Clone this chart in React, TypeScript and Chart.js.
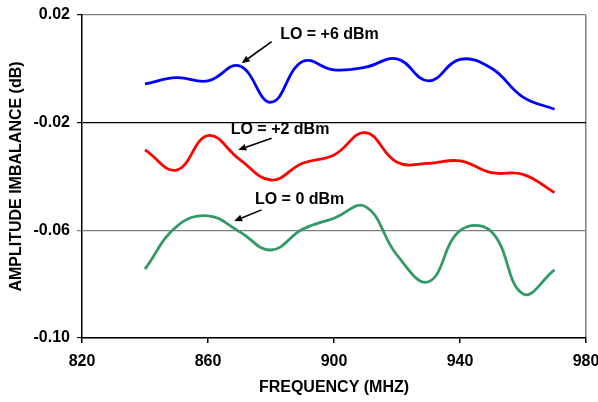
import React, { useEffect, useRef } from "react";
import { Chart, registerables } from "chart.js";

Chart.register(...registerables);

const frequencies = [840, 850, 860, 870, 880, 890, 900, 910, 920, 930, 940, 950, 960, 970];
const lo6 = [-0.0056, -0.0033, -0.0045, 0.0011, -0.0124, 0.0027, -0.0004, 0.0006, 0.0037, -0.0045, 0.0035, 0.0002, -0.0105, -0.015];
const lo2 = [-0.0301, -0.0376, -0.0248, -0.0336, -0.0413, -0.0351, -0.032, -0.0237, -0.0347, -0.0351, -0.0342, -0.0386, -0.0392, -0.046];
const lo0 = [-0.0744, -0.0586, -0.0546, -0.0605, -0.0673, -0.0596, -0.0555, -0.0512, -0.0692, -0.0791, -0.0601, -0.0605, -0.0836, -0.0747];

const xTicks = [820, 860, 900, 940, 980];
const yTicks = [-0.1, -0.06, -0.02, 0.02];

const annLabels = ["LO = +6 dBm", "LO = +2 dBm", "LO = 0 dBm"];
const annTextPos = [[882.9, 0.0126], [867.2, -0.0227], [874.9, -0.0487]];
const annArrowFrom = [[880.2, 0.0101], [880.2, -0.0258], [877.0, -0.0524]];
const annArrowTo = [[870.7, 0.0021], [869.6, -0.0301], [868.3, -0.0565]];

const FONT = "'Liberation Sans', Arial, sans-serif";

const annotationPlugin = {
  id: "annotations",
  afterDatasetsDraw(chart: any) {
    const ctx = chart.ctx;
    const xs = chart.scales.x;
    const ys = chart.scales.y;
    ctx.save();
    ctx.fillStyle = "#000";
    ctx.strokeStyle = "#000";
    ctx.font = `bold 16px ${FONT}`;
    ctx.textAlign = "left";
    ctx.textBaseline = "middle";
    annLabels.forEach((label, i) => {
      const tx = xs.getPixelForValue(annTextPos[i][0]);
      const ty = ys.getPixelForValue(annTextPos[i][1]);
      ctx.fillText(label, tx, ty);
      const x1 = xs.getPixelForValue(annArrowFrom[i][0]);
      const y1 = ys.getPixelForValue(annArrowFrom[i][1]);
      const x2 = xs.getPixelForValue(annArrowTo[i][0]);
      const y2 = ys.getPixelForValue(annArrowTo[i][1]);
      const ang = Math.atan2(y2 - y1, x2 - x1);
      const headLen = 8;
      const headW = 3.5;
      const bx = x2 - headLen * Math.cos(ang);
      const by = y2 - headLen * Math.sin(ang);
      ctx.lineWidth = 1.6;
      ctx.beginPath();
      ctx.moveTo(x1, y1);
      ctx.lineTo(bx, by);
      ctx.stroke();
      ctx.beginPath();
      ctx.moveTo(x2, y2);
      ctx.lineTo(bx + headW * Math.sin(ang), by - headW * Math.cos(ang));
      ctx.lineTo(bx - headW * Math.sin(ang), by + headW * Math.cos(ang));
      ctx.closePath();
      ctx.fill();
    });
    ctx.restore();
  },
};

export default function App() {
  const ref = useRef<HTMLCanvasElement>(null);
  useEffect(() => {
    if (!ref.current) return;
    const mk = (data: number[], color: string) => ({
      data: frequencies.map((f, i) => ({ x: f, y: data[i] })),
      borderColor: color,
      backgroundColor: color,
      borderWidth: 2.8,
      pointRadius: 0,
      tension: 0.42,
      fill: false,
    });
    const chart = new Chart(ref.current, {
      type: "line",
      data: {
        datasets: [mk(lo6, "#0000FF"), mk(lo2, "#FF0000"), mk(lo0, "#339966")],
      },
      options: {
        animation: false,
        responsive: false,
        events: [],
        layout: { padding: { top: 15, right: 12, left: 0, bottom: 0 } },
        plugins: { legend: { display: false }, tooltip: { enabled: false } },
        scales: {
          x: {
            type: "linear",
            min: 820,
            max: 980,
            afterBuildTicks: (s: any) => {
              s.ticks = xTicks.map((v) => ({ value: v }));
            },
            afterFit: (s: any) => {
              s.height = 64;
              s.paddingLeft = 0;
              s.paddingRight = 0;
            },
            border: { display: true, color: "#000", width: 1.5 },
            grid: {
              drawOnChartArea: true,
              color: (c: any) => (c.tick && c.tick.value === 980 ? "#808080" : "rgba(0,0,0,0)"),
              tickColor: "#000",
              tickLength: 5,
              lineWidth: 1.5,
            },
            ticks: {
              color: "#000",
              padding: 9,
              maxRotation: 0,
              font: { family: FONT, size: 16, weight: "bold" },
              callback: (v: any) => String(v),
            },
            title: {
              display: true,
              text: "FREQUENCY (MHZ)",
              color: "#000",
              font: { family: FONT, size: 16, weight: "bold" },
              padding: { top: 0, bottom: 5 },
            },
          },
          y: {
            type: "linear",
            min: -0.1,
            max: 0.02,
            afterBuildTicks: (s: any) => {
              s.ticks = yTicks.map((v) => ({ value: v }));
            },
            afterFit: (s: any) => {
              s.width = 82;
              s.paddingTop = 0;
              s.paddingBottom = 0;
            },
            border: { display: true, color: "#000", width: 1.5 },
            grid: {
              color: (c: any) =>
                c.tick && Math.abs(c.tick.value + 0.02) < 1e-9 ? "#000" : "#808080",
              tickColor: (c: any) =>
                c.tick && Math.abs(c.tick.value + 0.06) < 1e-9 ? "#808080" : "#000",
              tickLength: 5,
              lineWidth: 1.2,
            },
            ticks: {
              color: "#000",
              padding: 7,
              font: { family: FONT, size: 16, weight: "bold" },
              callback: (v: any) => Number(v).toFixed(2),
            },
            title: {
              display: true,
              text: "AMPLITUDE IMBALANCE (dB)",
              color: "#000",
              font: { family: FONT, size: 16, weight: "bold" },
              padding: { top: 7, bottom: 0 },
            },
          },
        },
      },
      plugins: [annotationPlugin],
    } as any);
    return () => chart.destroy();
  }, []);
  return (
    <canvas
      ref={ref}
      width={598}
      height={402}
      style={{ position: "fixed", left: 0, top: 0, display: "block", background: "#fff" }}
    />
  );
}
